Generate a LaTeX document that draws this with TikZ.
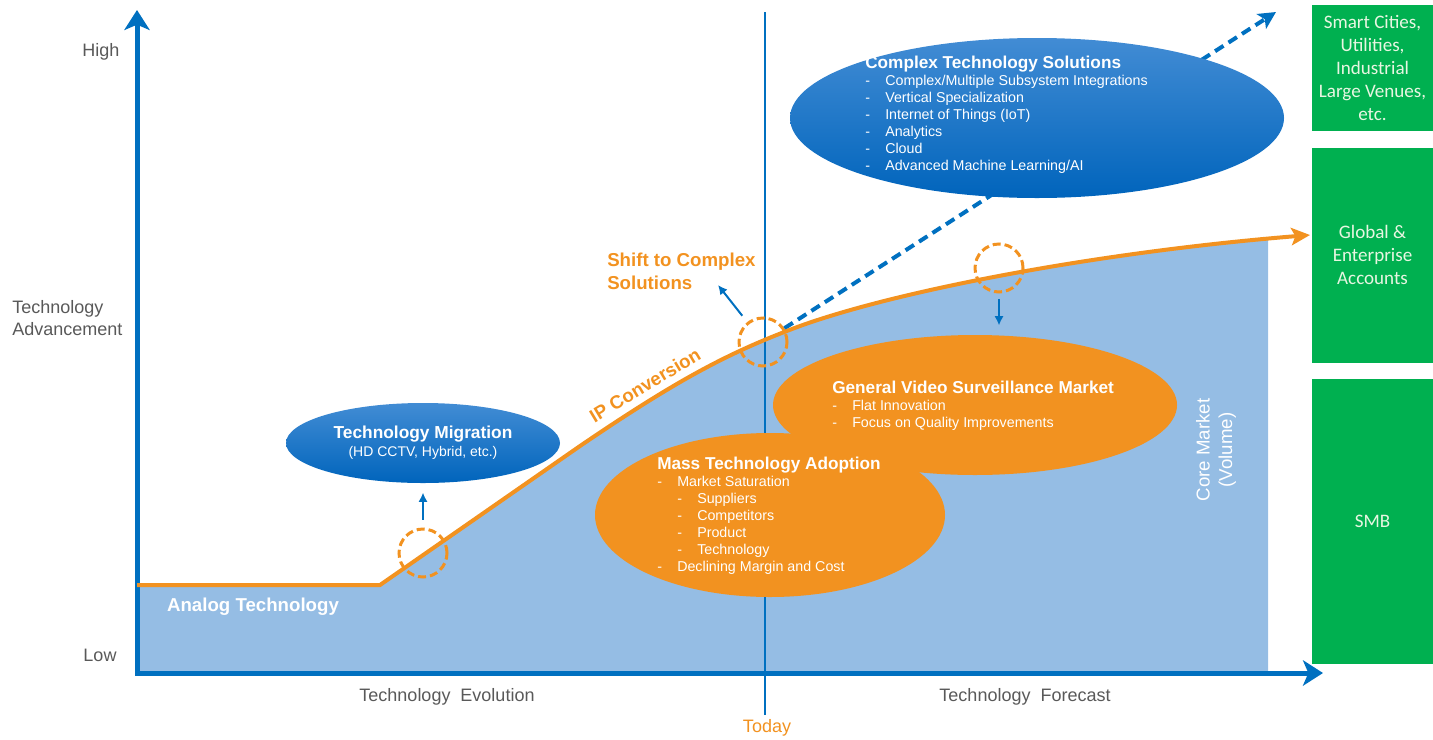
\documentclass[tikz,border=0pt]{standalone}
\usepackage{fontspec}
\setmainfont{Liberation Sans}
\newfontfamily\calibri{Carlito}
\usetikzlibrary{arrows.meta,positioning,shapes.geometric}

\definecolor{axisblue}{RGB}{0,112,192}
\definecolor{areablue}{RGB}{149,189,228}
\definecolor{trendorange}{RGB}{242,146,32}
\definecolor{segmentgreen}{RGB}{0,176,80}
\definecolor{labelgray}{RGB}{89,89,89}
\definecolor{balltop}{RGB}{66,140,212}
\definecolor{ballbottom}{RGB}{0,100,188}
\definecolor{segmenttext}{RGB}{232,246,226}

\newcommand{\btitle}[1]{{\fontsize{12.9}{12.75}\selectfont\bfseries #1}}
\newcommand{\li}[1]{\makebox[15pt][l]{-}#1}
\newcommand{\lii}[1]{\hspace{15pt}\makebox[15pt][l]{-}#1}

\tikzset{
  axislabel/.style={text=labelgray,font=\fontsize{13.5}{16.5}\selectfont,inner sep=0pt},
  blueball/.style={ellipse,top color=balltop,bottom color=ballbottom,draw=none,inner sep=0pt},
  orangeball/.style={ellipse,fill=trendorange,draw=none,inner sep=0pt},
  balltext/.style={text=white,align=left,inner sep=0pt,anchor=north west,font=\fontsize{10.7}{12.75}\selectfont},
  ring/.style={circle,draw=trendorange,line width=2.25pt,dash pattern=on 6pt off 3pt,minimum size=36pt,inner sep=0pt},
  pointer/.style={draw=axisblue,line width=1.5pt,-{Latex[length=7pt,width=7pt]}},
  segment/.style={rectangle,fill=segmentgreen,text=segmenttext,minimum width=90.75pt,align=center,inner sep=0pt,font=\calibri\fontsize{14.3}{17.25}\selectfont}
}

\begin{document}
\begin{tikzpicture}[x=0.75pt,y=-0.75pt]
\useasboundingbox (0,0) rectangle (1433,739);

% area under the trend
\begin{scope}
  \clip (137,0) rectangle (1268,673);
  \fill[areablue] (137,673) -- (137,585) -- (380,585) -- (580,446)
    .. controls (680,378) and (730,352) .. (800,326)
    .. controls (900,290) and (1100,252) .. (1310,235) -- (1310,673) -- cycle;
\end{scope}

% today line
\coordinate (todaytop) at (765,12);
\node[axislabel,text=trendorange] (today) at (767,728) {Today};
\draw[axisblue,line width=1.1pt,shorten >=3pt] (todaytop) -- (todaytop |- today.north);

% axes
\coordinate (O) at (137,673);
\coordinate (ytip) at (137,10);
\coordinate (xtip) at (1323,673);
\draw[axisblue,line width=3.75pt,line join=miter,
  {Stealth[length=15pt,width=19pt,inset=4pt]}-{Stealth[length=15pt,width=19pt,inset=4pt]}]
  (ytip) -- (O) -- (xtip);

\node[axislabel] (high) at (101,52) {High};
\node[axislabel] (low) at (100,655) {Low};
\node[axislabel,anchor=west,align=left] (adv) at (12,318) {Technology\\Advancement};
\node[axislabel] (evol) at (447,697) {Technology\ \ Evolution};
\node[axislabel] (fcst) at (1025,697) {Technology\ \ Forecast};

% dashed rings and pointers
\node[ring] (c1) at (423,553) {};
\node[ring] (c2) at (763,342) {};
\node[ring] (c3) at (999,268) {};
\coordinate (dashend) at (1276,12);
\coordinate (shiftend) at (718,285);
\draw[axisblue,line width=3pt,dash pattern=on 7.5pt off 4.5pt,
  -{Stealth[length=13pt,width=13pt,inset=3pt]}] (c2) -- (dashend);

% trend line
\draw[trendorange,line width=3pt,-{Stealth[length=14pt,width=13pt,inset=3pt]}]
  (137,585) -- (380,585) -- (580,446)
  .. controls (680,378) and (730,352) .. (800,326)
  .. controls (900,290) and (1100,252) .. (1310,235);

% bubbles
\node[blueball,minimum width=370.5pt,minimum height=120pt] (cts) at (1037,118) {};
\node[balltext] (ctstext) at (865,56) {\btitle{Complex Technology Solutions}\\
  \li{Complex/Multiple Subsystem Integrations}\\
  \li{Vertical Specialization}\\
  \li{Internet of Things (IoT)}\\
  \li{Analytics}\\
  \li{Cloud}\\
  \li{Advanced Machine Learning/AI}};

\node[blueball,minimum width=205.5pt,minimum height=60pt,text=white,align=center,
  font=\fontsize{10.5}{13.5}\selectfont] (mig) at (423,443)
  {{\fontsize{13}{13.5}\selectfont\bfseries Technology Migration}\\(HD CCTV, Hybrid, etc.)};

\node[orangeball,minimum width=303pt,minimum height=105pt] (gvs) at (975,405) {};
\node[balltext] (gvstext) at (832,381) {\btitle{General Video Surveillance Market}\\
  \li{Flat Innovation}\\
  \li{Focus on Quality Improvements}};

\node[orangeball,minimum width=262.5pt,minimum height=123pt] (mta) at (770,515) {};
\node[balltext] (mtatext) at (657,457) {\btitle{Mass Technology Adoption}\\
  \li{Market Saturation}\\
  \lii{Suppliers}\\
  \lii{Competitors}\\
  \lii{Product}\\
  \lii{Technology}\\
  \li{Declining Margin and Cost}};

\draw[pointer,shorten <=6pt,shorten >=7pt] (c1) -- (mig);
\draw[pointer,shorten <=6pt] (c2) -- (shiftend);
\draw[pointer,shorten <=4pt,shorten >=7pt] (c3) -- (c3 |- gvs.north);

% labels on the chart
\node[text=white,font=\fontsize{14}{17}\selectfont\bfseries,inner sep=0pt] (analog) at (253,607) {Analog Technology};
\node[text=trendorange,font=\fontsize{14}{17.25}\selectfont\bfseries,inner sep=0pt,anchor=north west,align=left]
  (shift) at (607,253) {Shift to Complex\\Solutions};
\node[text=trendorange,font=\fontsize{14}{17}\selectfont\bfseries,inner sep=0pt,rotate=31] (ipc) at (645,385) {IP Conversion};
\node[text=white,font=\fontsize{14}{17}\selectfont,inner sep=0pt,rotate=90,align=center] (core) at (1216,450) {Core Market\\(Volume)};

% market segments
\node[segment,minimum height=94.5pt] (gb1) at (1372.5,68) {Smart Cities,\\Utilities,\\Industrial\\Large Venues,\\etc.};
\node[segment,minimum height=161.25pt,below=12pt of gb1] (gb2) {Global \&\\Enterprise\\Accounts};
\node[segment,minimum height=213.75pt,below=12pt of gb2] (gb3) {SMB};
\end{tikzpicture}
\end{document}
